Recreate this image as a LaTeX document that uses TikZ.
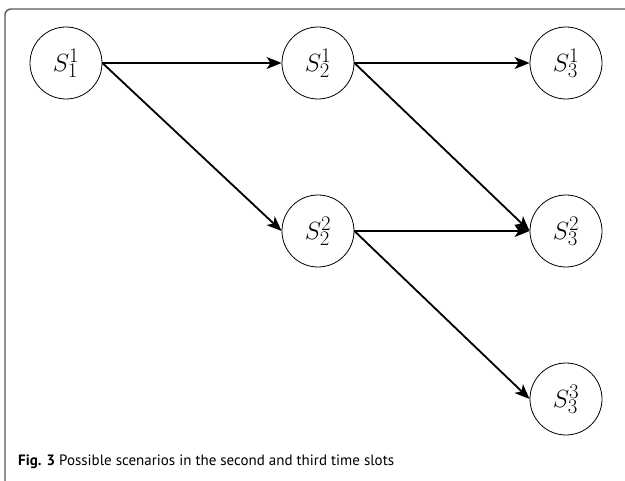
\documentclass[tikz,border=0pt]{standalone}
\usepackage{fontspec}
\newfontfamily\capfont{PT Sans}
\usetikzlibrary{arrows.meta}
\tikzset{
  state/.style={circle,draw,line width=0.8pt,minimum size=72pt,inner sep=0pt,font=\fontsize{30}{34}\selectfont},
  edge/.style={line width=1.8pt,-{Stealth[length=15pt,width=12pt,inset=4pt]}}
}
\begin{document}
\begin{tikzpicture}[x=1pt,y=-1pt]
\useasboundingbox (0,0) rectangle (625,481);
\draw[black!65,line width=1.4pt,rounded corners=6pt](5,481)--(5,9)--(625,9);

\node[state] (s11) at (66,63){$S_1^1$};
\node[state] (s21) at (318,63){$S_2^1$};
\node[state] (s31) at (566,63){$S_3^1$};
\node[state] (s22) at (318,231){$S_2^2$};
\node[state] (s32) at (566,231){$S_3^2$};
\node[state] (s33) at (566,399){$S_3^3$};

\draw[edge](s11.east)--(s21.west);
\draw[edge](s11.east)--(s22.west);
\draw[edge](s21.east)--(s31.west);
\draw[edge](s21.east)--(s32.west);
\draw[edge](s22.east)--(s32.west);
\draw[edge](s22.east)--(s33.west);

\node[anchor=base west,inner sep=0pt,font=\capfont\fontsize{15}{18}\selectfont] (cap) at (18,466){\textbf{Fig. 3} Possible scenarios in the second and third time slots};
\end{tikzpicture}
\end{document}
